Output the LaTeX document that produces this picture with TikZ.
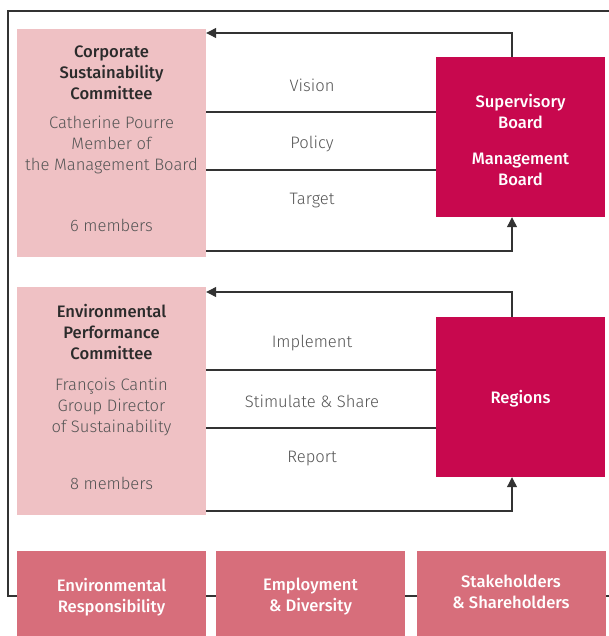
\documentclass[tikz,border=0pt]{standalone}
\usepackage{fontspec}
\setmainfont{Fira Sans}[Scale=1]
\usetikzlibrary{arrows.meta}
\definecolor{lightrose}{HTML}{EFC1C4}
\definecolor{crimson}{HTML}{C8084E}
\definecolor{oldrose}{HTML}{D76E7B}
\definecolor{titlegray}{HTML}{2B2B2B}
\definecolor{textgray}{HTML}{555555}
\definecolor{linegray}{HTML}{333333}
\newfontface\medium{Fira Sans Medium}
\newfontface\light{Fira Sans Light}
\newcommand\diafont{\fontsize{16.6}{21}\selectfont}
\tikzset{
  committee/.style={fill=lightrose, minimum width=189pt, minimum height=228pt, inner sep=0pt},
  board/.style={fill=crimson, minimum width=169pt, minimum height=160pt, inner sep=0pt},
  boardtext/.style={text=white, align=center, font=\diafont\medium},
  theme/.style={fill=oldrose, minimum width=189pt, minimum height=85pt, inner sep=0pt},
  themetext/.style={text=white, align=center, font=\diafont\medium},
  ctitle/.style={text=titlegray, align=center, font=\diafont\medium},
  cbody/.style={text=textgray, align=center, font=\diafont\light},
  flowlabel/.style={text=textgray, font=\diafont\light},
  link/.style={draw=linegray, line width=1.2pt},
  feedback/.style={link, -{Triangle[length=10pt,width=10pt]}}
}
\begin{document}
\begin{tikzpicture}[x=1pt, y=-1pt]
  \useasboundingbox (0,0) rectangle (609,636);
  % outer frame
  \coordinate (frame-tr) at (609,11);
  \coordinate (frame-br) at (609,596);
  \draw[draw=linegray, line width=1.2pt] (frame-tr) -- (8,11) -- (8,596) -- (frame-br);

  % upper level
  \node[committee] (csc) at (111.5,143) {};
  \node[ctitle] (csc-title) at (111.5,73) {Corporate\\Sustainability\\Committee};
  \node[cbody] (csc-chair) at (111.5,145) {Catherine Pourre\\Member of\\the Management Board};
  \node[cbody] (csc-size) at (111.5,225) {6 members};
  \node[board] (boards) at (520.5,137) {};
  \node[boardtext] (boards-text) at (520.5,140) {Supervisory\\Board\\[15pt]Management\\Board};

  \coordinate (b-up) at (512,33);
  \coordinate (b-down) at (512,251);
  \draw[feedback] (boards.north -| b-up) -- (b-up) -- (b-up -| csc.east);
  \draw[link] (csc.east |- 0,112) -- (boards.west |- 0,112);
  \draw[link] (csc.east |- 0,170) -- (boards.west |- 0,170);
  \draw[feedback] (csc.east |- b-down) -- (b-down) -- (boards.south -| b-down);
  \node[flowlabel] (vision) at (312,85) {Vision};
  \node[flowlabel] (policy) at (312,144) {Policy};
  \node[flowlabel] (target) at (312,201) {Target};

  % lower level
  \node[committee] (epc) at (111.5,401) {};
  \node[ctitle] (epc-title) at (111.5,332) {Environmental\\Performance\\Committee};
  \node[cbody] (epc-chair) at (111.5,407) {François Cantin\\Group Director\\of Sustainability};
  \node[cbody] (epc-size) at (111.5,483) {8 members};
  \node[board] (regions) at (520.5,397) {};
  \node[boardtext] (regions-text) at (520.5,399) {Regions};

  \coordinate (r-up) at (512,292);
  \coordinate (r-down) at (512,511);
  \draw[feedback] (regions.north -| r-up) -- (r-up) -- (r-up -| epc.east);
  \draw[link] (epc.east |- 0,370) -- (regions.west |- 0,370);
  \draw[link] (epc.east |- 0,428) -- (regions.west |- 0,428);
  \draw[feedback] (epc.east |- r-down) -- (r-down) -- (regions.south -| r-down);
  \node[flowlabel] (implement) at (312,343) {Implement};
  \node[flowlabel] (stimulate) at (312,401) {Stimulate \& Share};
  \node[flowlabel] (report) at (312,459) {Report};

  % themes
  \node[theme] (env) at (111.5,593.5) {};
  \node[theme] (employ) at (310.5,593.5) {};
  \node[theme] (stake) at (511,593.5) {};
  \node[themetext] (env-text) at (111.5,597) {Environmental\\Responsibility};
  \node[themetext] (employ-text) at (310.5,597) {Employment\\\& Diversity};
  \node[themetext] (stake-text) at (511,592) {Stakeholders\\\& Shareholders};
\end{tikzpicture}
\end{document}
